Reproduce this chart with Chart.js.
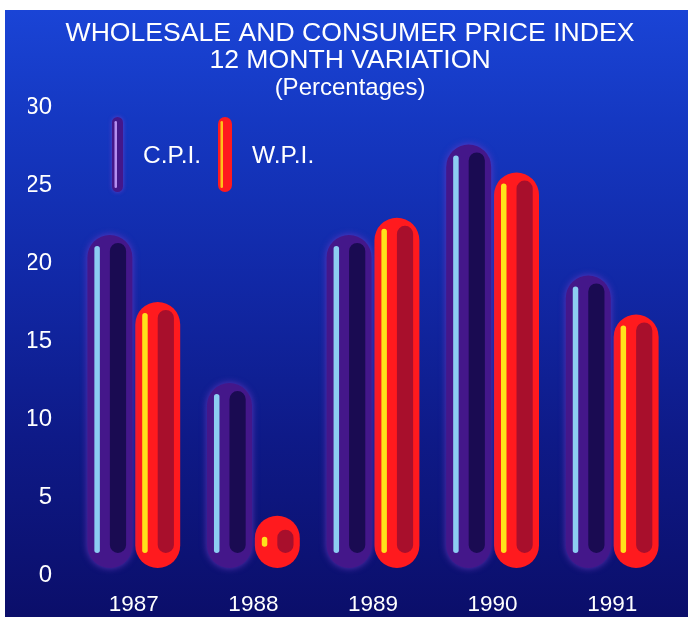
<!DOCTYPE html>
<html><head><meta charset="utf-8">
<script src="https://cdn.jsdelivr.net/npm/chart.js@4"></script>
<style>
html,body{margin:0;padding:0;background:#fff;}
#wrap{position:relative;width:688px;height:617px;overflow:hidden;background:#fff;}
#bg{position:absolute;left:5px;top:10px;width:683px;height:607px;
 background:linear-gradient(180deg,#1a44d6 0%,#1538c2 18%,#1128a6 45%,#0e1a88 70%,#0b0e6a 100%);}
canvas{position:absolute;left:0;top:0;}
</style></head><body>
<div id="wrap"><div id="bg"></div><canvas id="c" width="688" height="617"></canvas></div>
<script>
// ---- data ----
const years = ['1987', '1988', '1989', '1990', '1991'];
const cpi = [21.8, 12.3, 21.8, 27.6, 19.2];
const wpi = [17.5, 3.8, 22.9, 25.8, 16.7];
const seriesNames = ['C.P.I.', 'W.P.I.'];
const titleLines = ['WHOLESALE AND CONSUMER PRICE INDEX', '12 MONTH VARIATION'];
const subtitleText = '(Percentages)';
const yMin = 0, yMax = 30, yStep = 5;

const FONT = "'Liberation Sans', Arial, Helvetica, sans-serif";
const styles = [
  { body: '#44178a', inner: '#1a0b52', line: '#8ccdf2', glow: 'rgba(120,60,200,0.75)' },
  { body: '#ff1a1e', inner: '#a80f2c', line: '#ffe21a', glow: 'rgba(255,40,40,0.0)' }
];

function rr(ctx, x, y, w, h, r) {
  r = Math.min(r, w / 2, h / 2);
  ctx.beginPath();
  ctx.moveTo(x + r, y);
  ctx.lineTo(x + w - r, y);
  ctx.arcTo(x + w, y, x + w, y + r, r);
  ctx.lineTo(x + w, y + h - r);
  ctx.arcTo(x + w, y + h, x + w - r, y + h, r);
  ctx.lineTo(x + r, y + h);
  ctx.arcTo(x, y + h, x, y + h - r, r);
  ctx.lineTo(x, y + r);
  ctx.arcTo(x, y, x + r, y, r);
  ctx.closePath();
}

const glowPlugin = {
  id: 'glow',
  beforeDatasetDraw(chart, args) {
    const s = styles[args.index];
    chart.ctx.save();
    chart.ctx.shadowColor = s.glow;
    chart.ctx.shadowBlur = 7;
  },
  afterDatasetDraw(chart) { chart.ctx.restore(); }
};

const decoPlugin = {
  id: 'deco',
  afterDatasetsDraw(chart) {
    const ctx = chart.ctx;
    chart.data.datasets.forEach((ds, di) => {
      const meta = chart.getDatasetMeta(di);
      const s = styles[di];
      meta.data.forEach(el => {
        const p = el.getProps(['x', 'y', 'base', 'width'], true);
        const w = p.width, left = p.x - w / 2;
        const top = Math.min(p.y, p.base), bot = Math.max(p.y, p.base);
        const h = bot - top;
        ctx.save();
        // dark inner pill on the right
        let iTop = top + 8, iBot = bot - 15;
        if (h < 2 * w) { iTop = top + 14; iBot = bot - 15; }
        const iw = w * 0.36, ix = left + w * 0.5;
        ctx.fillStyle = s.inner;
        rr(ctx, ix, iTop, iw, Math.max(iBot - iTop, 4), iw / 2);
        ctx.fill();
        // highlight line on the left
        let lTop = top + 11, lBot = bot - 15;
        if (lBot - lTop < 40) { const m = (top + bot) / 2; lTop = m - 5; lBot = m + 5; }
        const lw = 5.5, lx = left + w * 0.155;
        ctx.fillStyle = s.line;
        rr(ctx, lx, lTop, lw, lBot - lTop, lw / 2);
        ctx.fill();
        ctx.restore();
      });
    });
  }
};

const legendPlugin = {
  id: 'customLegend',
  afterDraw(chart) {
    const ctx = chart.ctx, a = chart.chartArea;
    const items = [
      { px: a.left + 38, pw: 11, tx: a.left + 69 },
      { px: a.left + 144, pw: 14, tx: a.left + 178 }
    ];
    ctx.save();
    items.forEach((it, i) => {
      const s = styles[i];
      const t = a.top + 10, h = 75;
      ctx.save();
      ctx.shadowColor = i === 0 ? 'rgba(125,70,210,0.7)' : 'rgba(0,0,0,0)';
      ctx.shadowBlur = 4;
      ctx.fillStyle = s.body;
      rr(ctx, it.px, t, it.pw, h, it.pw / 2);
      ctx.fill();
      ctx.restore();
      ctx.fillStyle = i === 0 ? '#b48ef0' : '#ffc21a';
      rr(ctx, it.px + 2.5, t + 4, 2.5, h - 8, 1.25);
      ctx.fill();
      ctx.fillStyle = '#ffffff';
      ctx.font = '24.5px ' + FONT;
      ctx.textBaseline = 'middle';
      ctx.textAlign = 'left';
      ctx.fillText(seriesNames[i], it.tx, a.top + 49);
    });
    ctx.restore();
  }
};

new Chart(document.getElementById('c'), {
  type: 'bar',
  data: {
    labels: years,
    datasets: [
      { label: seriesNames[0], data: cpi, backgroundColor: styles[0].body },
      { label: seriesNames[1], data: wpi, backgroundColor: styles[1].body }
    ]
  },
  options: {
    responsive: false,
    devicePixelRatio: 1,
    animation: false,
    layout: { padding: { left: 28, right: 16, top: 0, bottom: 0 } },
    datasets: {
      bar: {
        base: 0.45,
        barPercentage: 0.94,
        categoryPercentage: 0.8,
        borderRadius: 23,
        borderSkipped: false,
        borderWidth: 0
      }
    },
    scales: {
      x: {
        grid: { display: false, drawTicks: false },
        border: { display: false },
        ticks: { color: '#ffffff', padding: 16, maxRotation: 0, font: { family: FONT, size: 22.5 } },
        afterFit(scale) { scale.height = 42; }
      },
      y: {
        min: yMin, max: yMax,
        grid: { display: false, drawTicks: false },
        border: { display: false },
        ticks: { stepSize: yStep, color: '#ffffff', padding: 22, font: { family: FONT, size: 24 } },
        afterFit(scale) { scale.width = 46; }
      }
    },
    plugins: {
      legend: { display: false },
      tooltip: { enabled: false },
      title: {
        display: true, text: titleLines, color: '#ffffff',
        font: { family: FONT, size: 26.6, weight: 'normal', lineHeight: 1.0 },
        padding: { top: 20.7, bottom: 0 }
      },
      subtitle: {
        display: true, text: subtitleText, color: '#ffffff',
        font: { family: FONT, size: 24, weight: 'normal', lineHeight: 1.0 },
        padding: { top: 2, bottom: 7.1 }
      }
    }
  },
  plugins: [glowPlugin, decoPlugin, legendPlugin]
});
</script>
</body></html>
